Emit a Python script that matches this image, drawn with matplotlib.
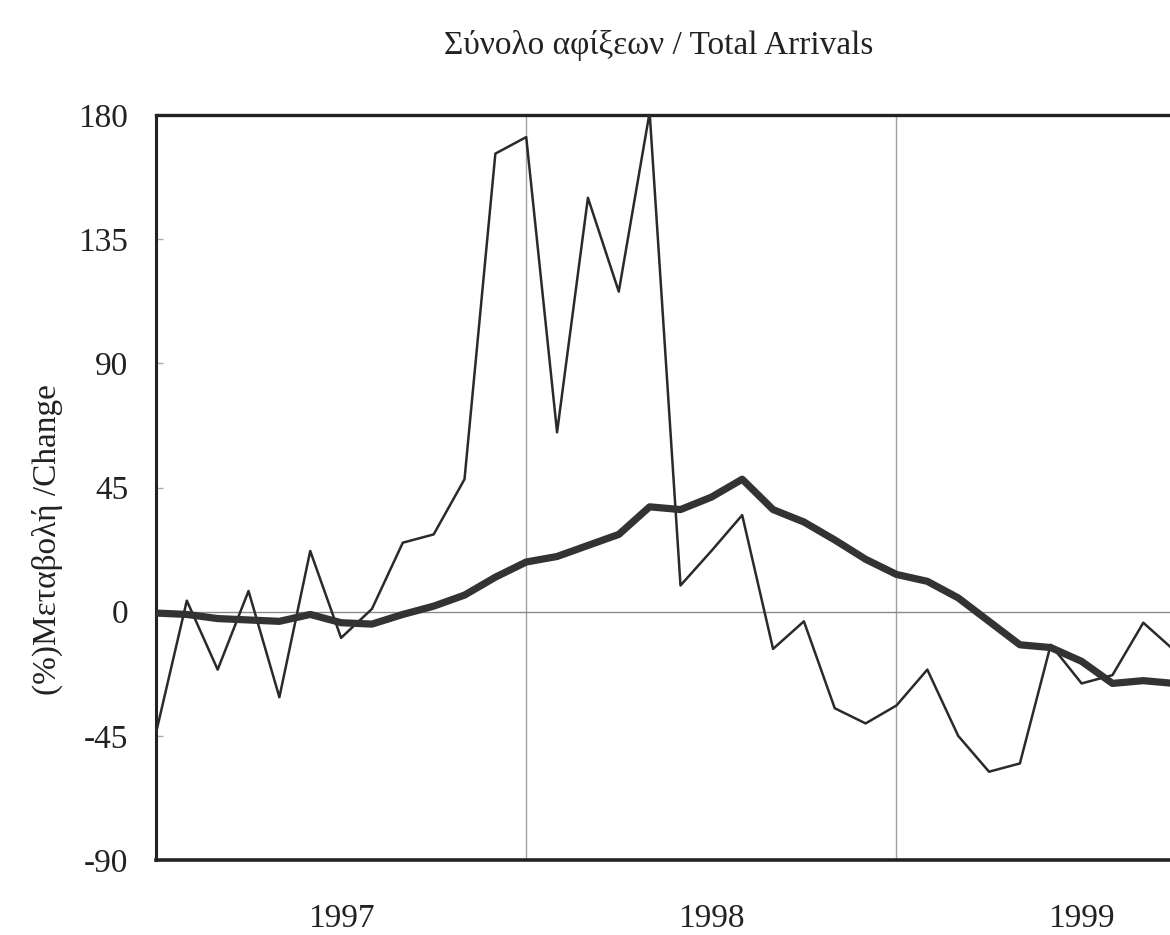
import matplotlib.pyplot as plt

# monthly % change, Jan 1997 onwards (index 0 = Jan 1997)
months = list(range(34))
monthly_change = [-44, 4, -21, 7.5, -31, 22, -9.5, 1, 25, 28, 48, 166,
                  172, 65, 150, 116, 181, 9.5, 22, 35, -13.5, -3.5, -35, -40.5,
                  -34, -21, -45, -58, -55, -12, -26, -23, -4, -14]
trend_change = [-0.5, -1, -2.5, -3, -3.5, -1, -4, -4.5, -1, 2, 6, 12.5,
                18, 20, 24, 28, 38, 37, 41.5, 48, 37, 32.5, 26, 19,
                13.5, 11, 5, -3.5, -12, -13, -18, -26, -25, -26]

year_labels = ['1997', '1998', '1999']
year_centres = [6, 18, 30]
year_breaks = [12, 24]
y_ticks = [-90, -45, 0, 45, 90, 135, 180]

plt.rcParams['font.family'] = ['Liberation Serif', 'DejaVu Serif']

fig = plt.figure(figsize=(11.7, 9.35), dpi=100)
ax = fig.add_axes([0.1333, 0.0802, 0.923, 0.7968])

for xb in year_breaks:
    ax.axvline(xb, color='#a0a0a0', lw=1.0, zorder=1)
ax.axhline(0, color='#8a8a8a', lw=1.0, zorder=1)

ax.plot(months, monthly_change, color='#2a2a2a', lw=1.8, zorder=3)
ax.plot(months, trend_change, color='#333333', lw=5.2, zorder=4,
        solid_joinstyle='round', solid_capstyle='round')

ax.set_xlim(0, 35)
ax.set_ylim(-90, 180)
ax.set_yticks(y_ticks)
ax.set_yticklabels([str(v) for v in y_ticks])
ax.set_xticks(year_centres)
ax.set_xticklabels(year_labels)
ax.tick_params(axis='x', length=0, pad=31, labelsize=24, labelcolor='#222222')
ax.tick_params(axis='y', direction='in', length=5, width=1, color='#aaaaaa',
               pad=20, labelsize=24, labelcolor='#222222')

for side in ['left', 'top', 'bottom']:
    ax.spines[side].set_color('#222222')
ax.spines['left'].set_linewidth(2.2)
ax.spines['top'].set_linewidth(2.4)
ax.spines['bottom'].set_linewidth(2.6)
ax.spines['right'].set_visible(False)

ax.set_ylabel('(%)Μεταβολή /Change', fontsize=24, color='#222222')
ax.yaxis.set_label_coords(-0.086, 0.43)
fig.text(0.563, 0.951, 'Σύνολο αφίξεων / Total Arrivals', ha='center',
         va='center', fontsize=24, color='#222222')

fig.savefig('out.png', dpi=100)
